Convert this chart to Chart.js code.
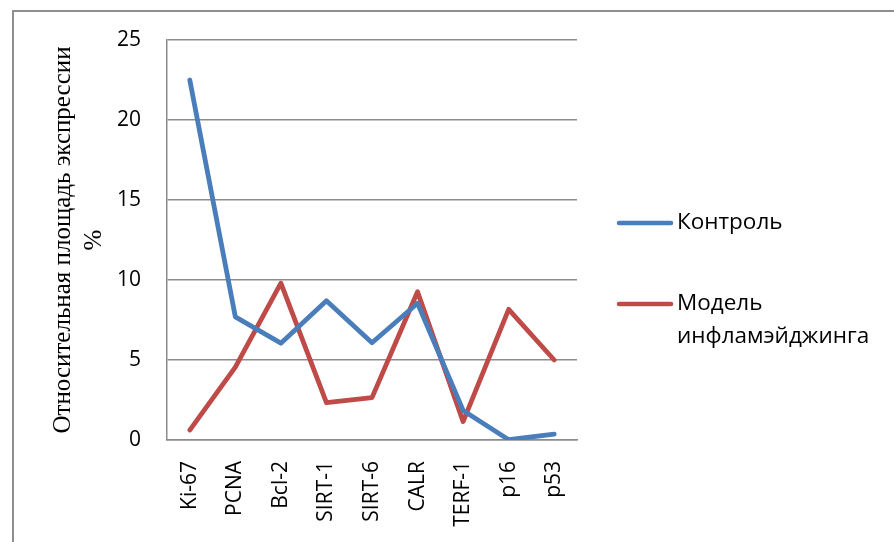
<!DOCTYPE html>
<html>
<head>
<meta charset="utf-8">
<script src="https://cdn.jsdelivr.net/npm/chart.js@4/dist/chart.umd.min.js"></script>
<style>
  html, body { margin: 0; padding: 0; background: #fff; }
  #wrap { width: 894px; height: 542px; }
</style>
</head>
<body>
<div id="wrap"><canvas id="expressionChart" width="894" height="542"></canvas></div>
<script>
const markers = ["Ki-67", "PCNA", "Bcl-2", "SIRT-1", "SIRT-6", "CALR", "TERF-1", "p16", "p53"];
const controlValues = [22.5, 7.7, 6.05, 8.7, 6.08, 8.55, 1.85, 0.02, 0.37];
const inflammagingValues = [0.62, 4.55, 9.8, 2.33, 2.65, 9.27, 1.15, 8.17, 5.0];
const seriesNames = ["Контроль", "Модель инфламэйджинга"];
const yTitle = ["Относительная площадь экспрессии", "%"];

const calibriLike = "'Open Sans', 'Liberation Sans', sans-serif";
const gridGray = "#8c8c8c";

// frame around the chart (only top and left edges show in the picture)
const framePlugin = {
  id: "frame",
  beforeDraw(chart) {
    const ctx = chart.ctx;
    ctx.save();
    ctx.strokeStyle = "#8f8f8f";
    ctx.lineWidth = 2;
    ctx.beginPath();
    ctx.moveTo(13, 542);
    ctx.lineTo(13, 11);
    ctx.lineTo(894, 11);
    ctx.stroke();
    ctx.restore();
  }
};

// legend drawn by hand so the second label can wrap like the original
const sideLegend = {
  id: "sideLegend",
  afterDraw(chart) {
    const ctx = chart.ctx;
    const rows = [223, 304];
    ctx.save();
    ctx.font = "22.5px " + calibriLike;
    ctx.textBaseline = "middle";
    ctx.fillStyle = "#000";
    chart.data.datasets.forEach((ds, i) => {
      const y = rows[i];
      ctx.strokeStyle = ds.borderColor;
      ctx.lineWidth = 4.5;
      ctx.lineCap = "round";
      ctx.beginPath();
      ctx.moveTo(619, y);
      ctx.lineTo(671, y);
      ctx.stroke();
      // simple word wrap
      const words = ds.label.split(" ");
      let line = "";
      let ly = y;
      words.forEach((w) => {
        const test = line ? line + " " + w : w;
        if (line && ctx.measureText(test).width > 205) {
          ctx.fillText(line, 677, ly);
          line = w;
          ly += 33;
        } else {
          line = test;
        }
      });
      ctx.fillText(line, 677, ly);
    });
    ctx.restore();
  }
};

new Chart(document.getElementById("expressionChart"), {
  type: "line",
  data: {
    labels: markers,
    datasets: [
      {
        label: seriesNames[0],
        data: controlValues,
        borderColor: "#4a7ebb",
        borderWidth: 4.8,
        borderCapStyle: "round",
        borderJoinStyle: "round",
        pointRadius: 0,
        tension: 0
      },
      {
        label: seriesNames[1],
        data: inflammagingValues,
        borderColor: "#be4b48",
        borderWidth: 4.8,
        borderCapStyle: "round",
        borderJoinStyle: "round",
        pointRadius: 0,
        tension: 0
      }
    ]
  },
  options: {
    responsive: false,
    animation: false,
    events: [],
    layout: {
      padding: { left: 48, top: 40, right: 317, bottom: 0 }
    },
    plugins: {
      legend: { display: false },
      tooltip: { enabled: false }
    },
    scales: {
      x: {
        offset: true,
        grid: { display: false },
        border: { display: true, color: gridGray, width: 1.5 },
        ticks: {
          autoSkip: false,
          minRotation: 90,
          maxRotation: 90,
          padding: 13,
          color: "#000",
          font: { family: calibriLike, size: 21 }
        },
        afterFit(scale) {
          scale.height = 102;
        }
      },
      y: {
        min: 0,
        max: 25,
        grid: { color: gridGray, lineWidth: 1.5, drawTicks: false },
        border: { display: true, color: gridGray, width: 1.5 },
        ticks: {
          stepSize: 5,
          padding: 26,
          color: "#000",
          font: { family: calibriLike, size: 21 }
        },
        title: {
          display: true,
          text: yTitle,
          color: "#000",
          padding: 0,
          font: { family: "'Liberation Serif', 'Times New Roman', serif", size: 25, lineHeight: "31px" }
        },
        afterFit(scale) {
          scale.width = 119;
        }
      }
    }
  },
  plugins: [framePlugin, sideLegend]
});
</script>
</body>
</html>
